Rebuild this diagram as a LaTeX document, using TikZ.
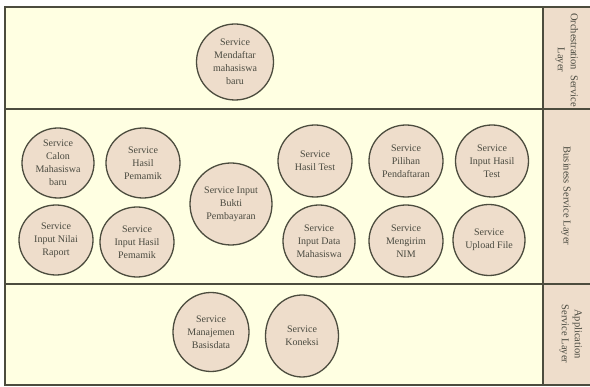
\documentclass[tikz,border=0pt]{standalone}
\usepackage{fontspec}
\setmainfont{Liberation Serif}
\usetikzlibrary{shapes.geometric}
\definecolor{laneyellow}{HTML}{FFFFE2}
\definecolor{tan}{HTML}{EEDDCB}
\definecolor{edge}{HTML}{4C4C3E}
\definecolor{ink}{HTML}{4A4A40}
\tikzset{
  svc/.style={ellipse, draw=edge, line width=1.3pt, fill=tan, inner sep=0pt,
    align=center, text=ink, font=\fontsize{10}{13}\selectfont},
  lanelabel/.style={rotate=-90, align=center, text=ink,
    font=\fontsize{10.5}{13}\selectfont},
  border/.style={draw=edge, line width=1.6pt}
}
\begin{document}
\begin{tikzpicture}[x=1pt,y=-1pt]
\useasboundingbox (0,0) rectangle (590,387);
% lanes and label column
\fill[laneyellow] (5,7) rectangle (543,385);
\fill[tan] (543,7) rectangle (590,385);
\draw[border] (590,7) -- (5,7) -- (5,385) -- (590,385);
\draw[border] (5,109) -- (590,109);
\draw[border] (5,284) -- (590,284);
\draw[border] (543,7) -- (543,385);

% lane titles
\node[lanelabel] (orch) at (567,60) {Orchestration\ \ Service\\Layer};
\node[lanelabel] (bus) at (566,196) {Business Service Layer};
\node[lanelabel] (app) at (571,334) {Application\\Service Layer};

% orchestration services
\node[svc, minimum width=77pt, minimum height=76pt] (daftar) at (235,62) {Service\\Mendaftar\\mahasiswa\\baru};

% business services
\node[svc, minimum width=72pt, minimum height=70pt] (calon) at (58,163) {Service\\Calon\\Mahasiswa\\baru};
\node[svc, minimum width=74pt, minimum height=70pt] (hasilpm) at (143,163) {Service\\Hasil\\Pemamik};
\node[svc, minimum width=74pt, minimum height=70pt] (raport) at (56,240) {Service\\Input Nilai\\Raport};
\node[svc, minimum width=74pt, minimum height=70pt] (inputpm) at (137,242) {Service\\Input Hasil\\Pemamik};
\node[svc, minimum width=82pt, minimum height=82pt] (bukti) at (231,204) {Service Input\\Bukti\\Pembayaran};
\node[svc, minimum width=74pt, minimum height=72pt] (test) at (315,161) {Service\\Hasil Test};
\node[svc, minimum width=74pt, minimum height=72pt] (pilihan) at (406,161) {Service\\Pilihan\\Pendaftaran};
\node[svc, minimum width=73pt, minimum height=72pt] (inputtest) at (492,161) {Service\\Input Hasil\\Test};
\node[svc, minimum width=72pt, minimum height=72pt] (datamhs) at (319,241) {Service\\Input Data\\Mahasiswa};
\node[svc, minimum width=74pt, minimum height=72pt] (nim) at (406,241) {Service\\Mengirim\\NIM};
\node[svc, minimum width=72pt, minimum height=71pt] (upload) at (489,240) {Service\\Upload File};

% application services
\node[svc, minimum width=76pt, minimum height=79pt] (db) at (211,332) {Service\\Manajemen\\Basisdata};
\node[svc, minimum width=73pt, minimum height=82pt] (koneksi) at (302,336) {Service\\Koneksi};
\end{tikzpicture}
\end{document}
